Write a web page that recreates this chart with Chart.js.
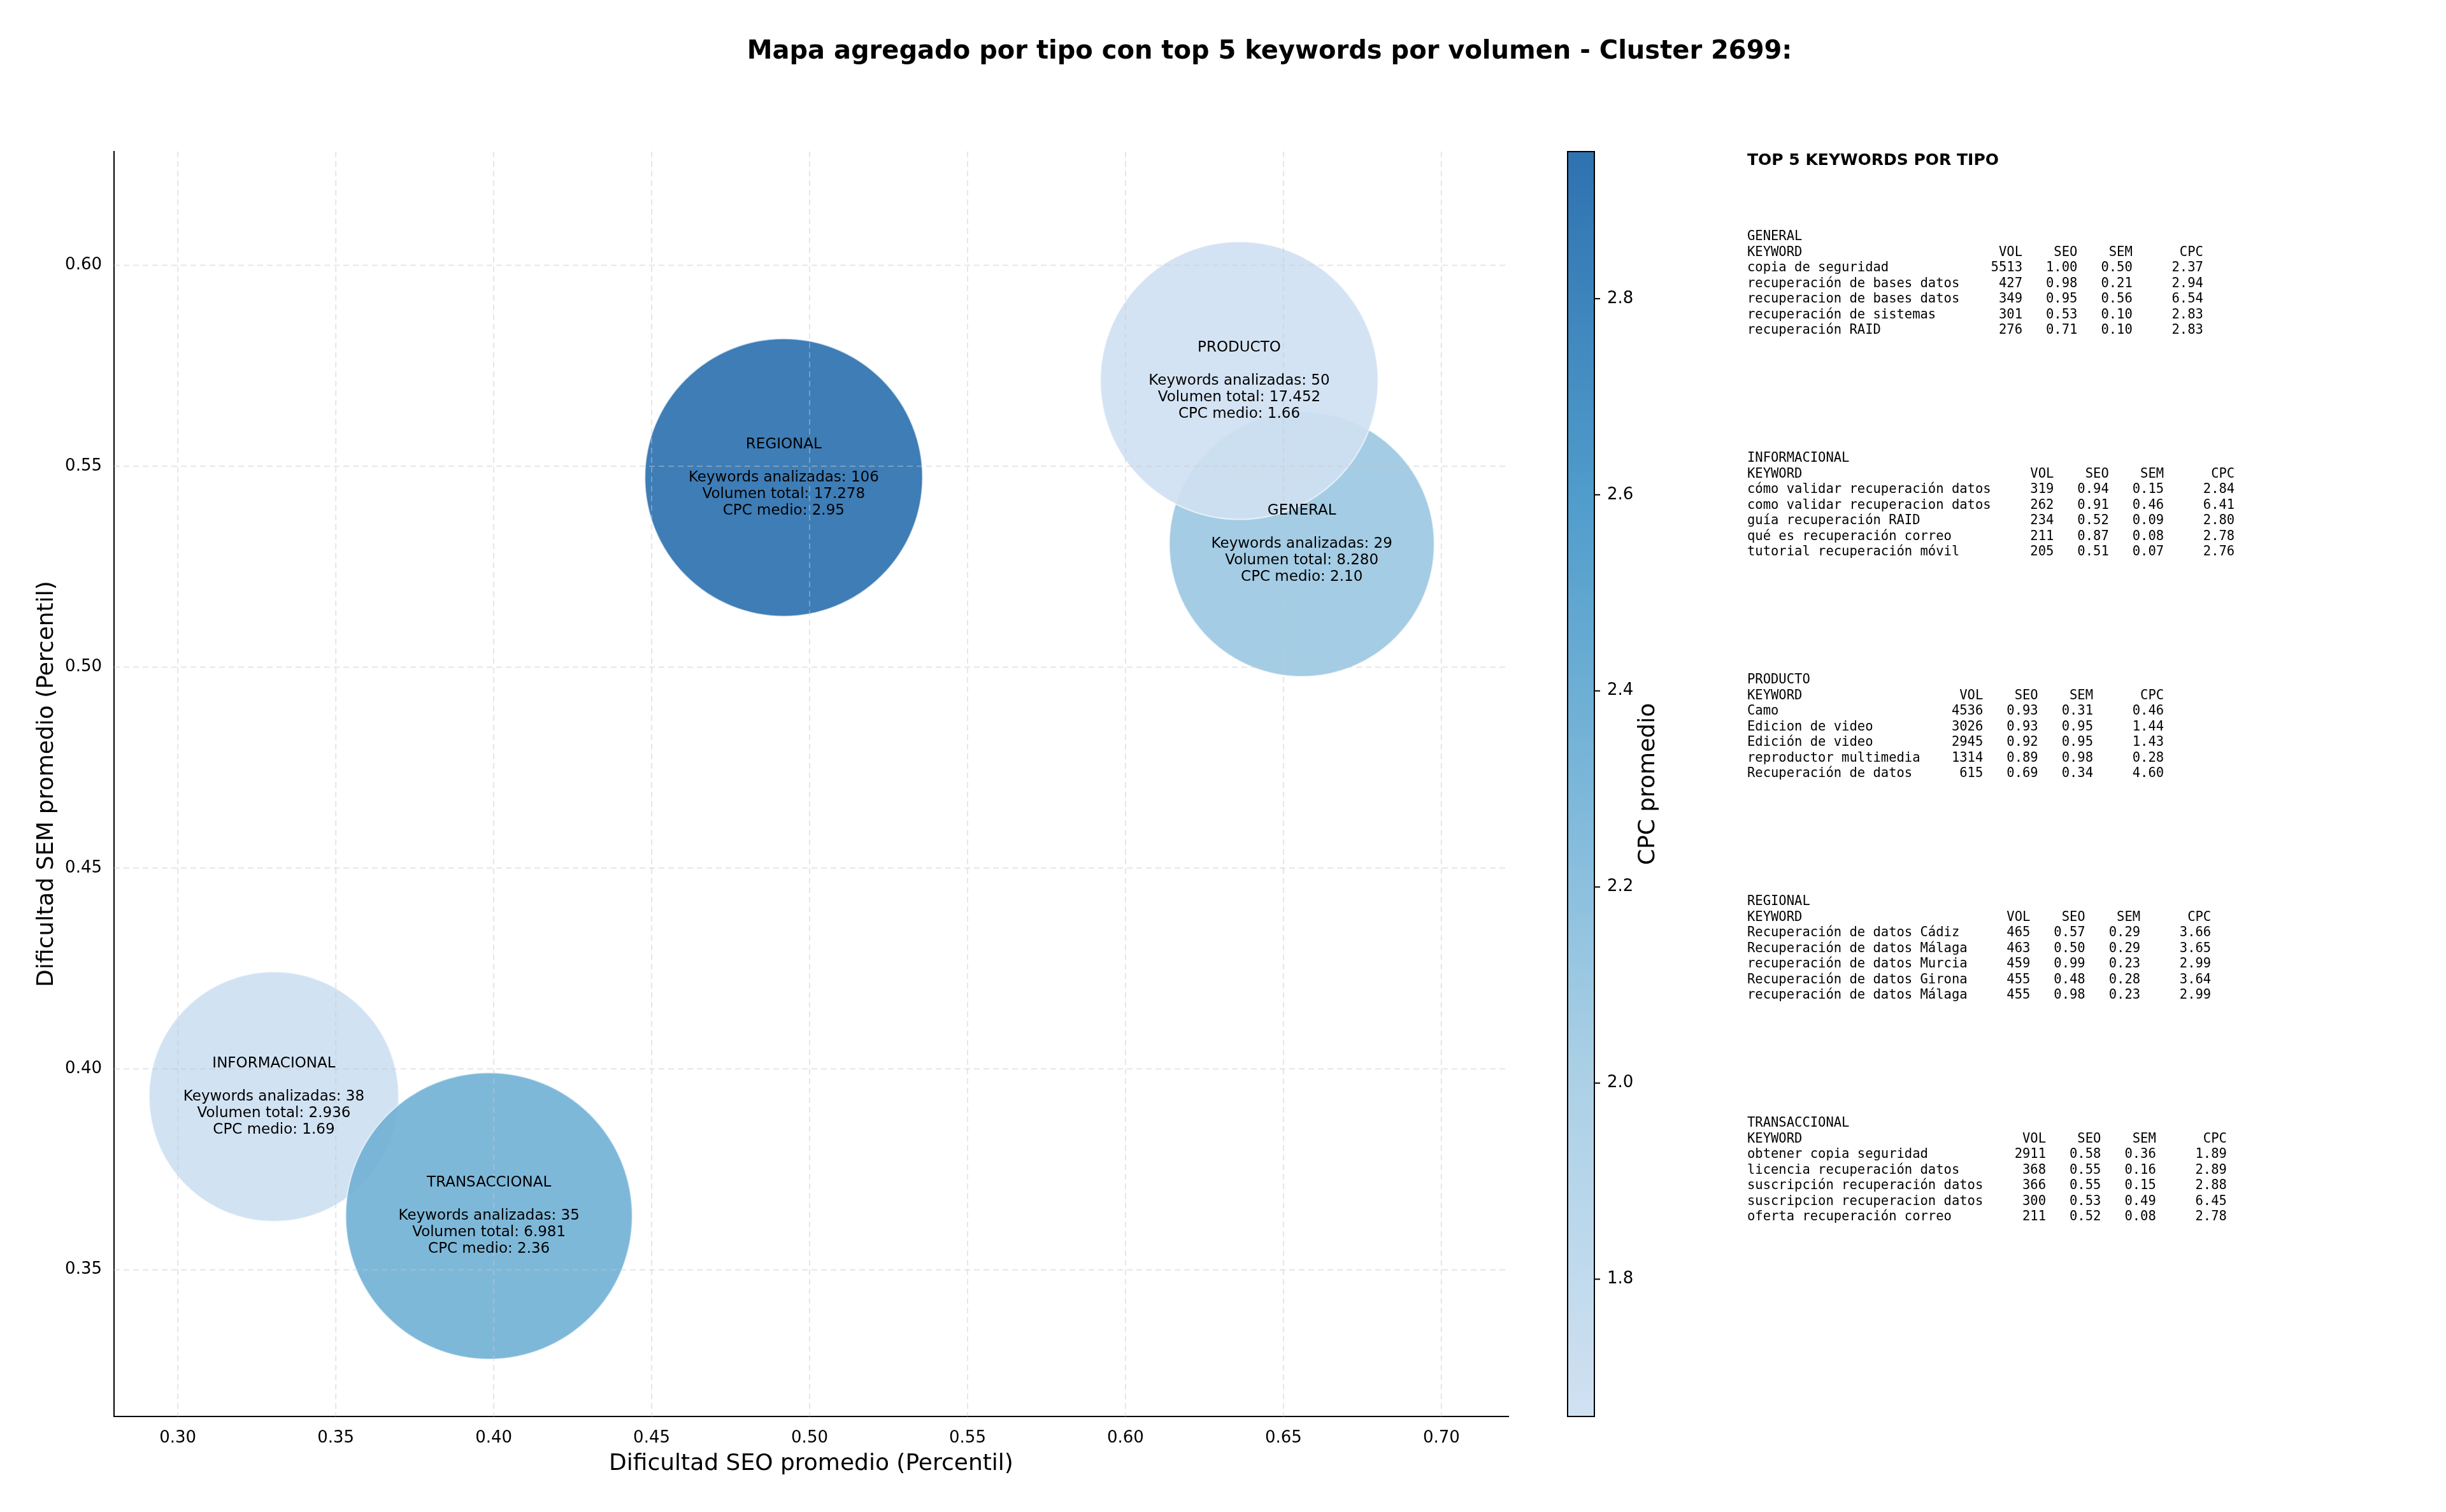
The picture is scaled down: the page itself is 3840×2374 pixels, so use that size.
<!DOCTYPE html>
<html><head><meta charset="utf-8">
<script src="https://cdn.jsdelivr.net/npm/chart.js@4.4.1/dist/chart.umd.min.js"></script>
<style>html,body{margin:0;padding:0;background:#fff}canvas{display:block}</style>
</head><body>
<div style="width:3840px;height:2374px"><canvas id="c" width="3840" height="2374"></canvas></div>
<script>
const tipos = ["GENERAL","INFORMACIONAL","PRODUCTO","REGIONAL","TRANSACCIONAL"];
const seoProm = [0.6558,0.3304,0.636,0.4918,0.3985];
const semProm = [0.5306,0.3931,0.5713,0.5472,0.3634];
const numKeywords = [29,38,50,106,35];
const volTotal = ["8.280","2.936","17.452","17.278","6.981"];
const cpcMedio = [2.10,1.69,1.66,2.95,2.36];
const bubbleSize = [208,196,218,218,225];
const xTicks = [0.30,0.35,0.40,0.45,0.50,0.55,0.60,0.65,0.70];
const yTicks = [0.35,0.40,0.45,0.50,0.55,0.60];
const cbTicks = [1.8,2.0,2.2,2.4,2.6,2.8];

const topKw = {
 GENERAL:[["copia de seguridad",5513,1.00,0.50,2.37],["recuperación de bases datos",427,0.98,0.21,2.94],["recuperacion de bases datos",349,0.95,0.56,6.54],["recuperación de sistemas",301,0.53,0.10,2.83],["recuperación RAID",276,0.71,0.10,2.83]],
 INFORMACIONAL:[["cómo validar recuperación datos",319,0.94,0.15,2.84],["como validar recuperacion datos",262,0.91,0.46,6.41],["guía recuperación RAID",234,0.52,0.09,2.80],["qué es recuperación correo",211,0.87,0.08,2.78],["tutorial recuperación móvil",205,0.51,0.07,2.76]],
 PRODUCTO:[["Camo",4536,0.93,0.31,0.46],["Edicion de video",3026,0.93,0.95,1.44],["Edición de video",2945,0.92,0.95,1.43],["reproductor multimedia",1314,0.89,0.98,0.28],["Recuperación de datos",615,0.69,0.34,4.60]],
 REGIONAL:[["Recuperación de datos Cádiz",465,0.57,0.29,3.66],["Recuperación de datos Málaga",463,0.50,0.29,3.65],["recuperación de datos Murcia",459,0.99,0.23,2.99],["Recuperación de datos Girona",455,0.48,0.28,3.64],["recuperación de datos Málaga",455,0.98,0.23,2.99]],
 TRANSACCIONAL:[["obtener copia seguridad",2911,0.58,0.36,1.89],["licencia recuperación datos",368,0.55,0.16,2.89],["suscripción recuperación datos",366,0.55,0.15,2.88],["suscripcion recuperacion datos",300,0.53,0.49,6.45],["oferta recuperación correo",211,0.52,0.08,2.78]]
};

const cmin = Math.min(...cpcMedio), cmax = Math.max(...cpcMedio);
const stops = [[0,[208,225,242]],[0.27,[171,208,230]],[0.5,[123,183,217]],[0.72,[81,157,204]],[1,[46,114,176]]];
function cmap(v){
  let t=(v-cmin)/(cmax-cmin); t=Math.max(0,Math.min(1,t));
  for(let i=1;i<stops.length;i++){ if(t<=stops[i][0]){ const a=stops[i-1],b=stops[i]; const f=(t-a[0])/(b[0]-a[0]);
    return a[1].map((c,k)=>Math.round(c+(b[1][k]-c)*f)); } }
  return stops[stops.length-1][1];
}
const rgba=(c,a)=>`rgba(${c[0]},${c[1]},${c[2]},${a})`;

const overlay = {
  id:'overlay',
  afterDatasetsDraw(chart){
    const ctx=chart.ctx, xs=chart.scales.x, ys=chart.scales.y;
    ctx.save();
    ctx.strokeStyle='rgba(200,200,200,0.45)'; ctx.lineWidth=2; ctx.setLineDash([9,6]);
    const a=chart.chartArea;
    xTicks.forEach(v=>{const x=xs.getPixelForValue(v);ctx.beginPath();ctx.moveTo(x,a.top);ctx.lineTo(x,a.bottom);ctx.stroke();});
    yTicks.forEach(v=>{const y=ys.getPixelForValue(v);ctx.beginPath();ctx.moveTo(a.left,y);ctx.lineTo(a.right,y);ctx.stroke();});
    ctx.setLineDash([]);
    ctx.fillStyle='#000'; ctx.font='23px "DejaVu Sans"'; ctx.textAlign='center'; ctx.textBaseline='middle';
    tipos.forEach((t,i)=>{
      const x=xs.getPixelForValue(seoProm[i]), y=ys.getPixelForValue(semProm[i]);
      const lines=[t,"","Keywords analizadas: "+numKeywords[i],"Volumen total: "+volTotal[i],"CPC medio: "+cpcMedio[i].toFixed(2)];
      lines.forEach((l,k)=>ctx.fillText(l,x,y+(k-2)*26));
    });
    ctx.restore();
  },
  afterDraw(chart){
    const ctx=chart.ctx; ctx.save();
    ctx.fillStyle='#000'; ctx.textAlign='center'; ctx.textBaseline='middle';
    ctx.font='bold 40px "DejaVu Sans"';
    ctx.fillText("Mapa agregado por tipo con top 5 keywords por volumen - Cluster 2699:",1993,82);
    const L=2461,R=2503,T=238,B=2224;
    const g=ctx.createLinearGradient(0,B,0,T);
    stops.forEach(s=>g.addColorStop(s[0],rgba(s[1],1)));
    ctx.fillStyle=g; ctx.fillRect(L,T,R-L,B-T);
    ctx.strokeStyle='#000'; ctx.lineWidth=2; ctx.strokeRect(L,T,R-L,B-T);
    ctx.font='26px "DejaVu Sans"'; ctx.textAlign='left'; ctx.fillStyle='#000';
    cbTicks.forEach(v=>{const y=B-(v-cmin)/(cmax-cmin)*(B-T);
      ctx.beginPath();ctx.moveTo(R,y);ctx.lineTo(R+9,y);ctx.stroke();
      ctx.fillText(v.toFixed(1),R+20,y);});
    ctx.save(); ctx.translate(2588,1231); ctx.rotate(-Math.PI/2); ctx.textAlign='center';
    ctx.font='36px "DejaVu Sans"'; ctx.fillText("CPC promedio",0,0); ctx.restore();
    const X=2743; ctx.textAlign='left'; ctx.textBaseline='alphabetic';
    ctx.font='bold 25px "DejaVu Sans"'; ctx.fillText("TOP 5 KEYWORDS POR TIPO",X,259);
    ctx.font='20.5px "DejaVu Sans Mono"';
    tipos.forEach((t,s)=>{
      const rows=topKw[t]; const w=Math.max(...rows.map(r=>r[0].length));
      let y=377+s*348;
      const lines=[t,"KEYWORD".padEnd(w)+"VOL".padStart(8)+"SEO".padStart(7)+"SEM".padStart(7)+"CPC".padStart(9)];
      rows.forEach(r=>lines.push(r[0].padEnd(w)+String(r[1]).padStart(8)+r[2].toFixed(2).padStart(7)+r[3].toFixed(2).padStart(7)+r[4].toFixed(2).padStart(9)));
      lines.forEach((l,k)=>ctx.fillText(l,X,y+k*24.5));
    });
    ctx.restore();
  }
};

new Chart(document.getElementById('c'),{
  type:'bubble',
  data:{datasets:[{
    data:tipos.map((t,i)=>({x:seoProm[i],y:semProm[i],r:bubbleSize[i]})),
    backgroundColor:cpcMedio.map(v=>rgba(cmap(v),0.92)),
    borderColor:'rgba(255,255,255,0.6)', borderWidth:2,
    hoverRadius:0
  }]},
  options:{
    responsive:false, animation:false, devicePixelRatio:1,
    clip:false,
    layout:{autoPadding:false,padding:{left:48,top:238,right:1472,bottom:50}},
    plugins:{legend:{display:false},tooltip:{enabled:false}},
    scales:{
      x:{type:'linear',min:0.2798,max:0.7212,
        afterBuildTicks:s=>{s.ticks=xTicks.map(v=>({value:v}));},
        afterFit:s=>{s.height=100;},
        grid:{display:false,drawOnChartArea:false,drawTicks:true,tickLength:9,tickColor:'#000'},
        border:{display:true,color:'#000',width:2},
        ticks:{color:'#000',font:{family:'DejaVu Sans',size:26},padding:10,callback:v=>v.toFixed(2)},
        title:{display:true,text:'Dificultad SEO promedio (Percentil)',color:'#000',font:{family:'DejaVu Sans',size:36},padding:{top:4}}
      },
      y:{type:'linear',min:0.3135,max:0.6283,
        afterBuildTicks:s=>{s.ticks=yTicks.map(v=>({value:v}));},
        afterFit:s=>{s.width=131;},
        grid:{display:false,drawOnChartArea:false,drawTicks:true,tickLength:9,tickColor:'#000'},
        border:{display:true,color:'#000',width:2},
        ticks:{color:'#000',font:{family:'DejaVu Sans',size:26},padding:10,callback:v=>v.toFixed(2)},
        title:{display:true,text:'Dificultad SEM promedio (Percentil)',color:'#000',font:{family:'DejaVu Sans',size:36},padding:{bottom:10}}
      }
    }
  },
  plugins:[overlay]
});
</script>
</body></html>
